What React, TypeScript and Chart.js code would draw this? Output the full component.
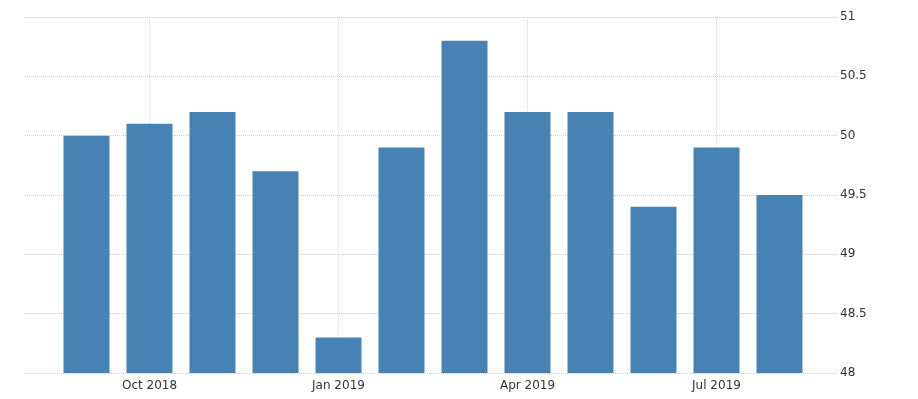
import React, { useEffect, useRef } from "react";
import { Chart, registerables } from "chart.js";

Chart.register(...registerables);

const months = ["Sep 2018", "Oct 2018", "Nov 2018", "Dec 2018", "Jan 2019", "Feb 2019", "Mar 2019", "Apr 2019", "May 2019", "Jun 2019", "Jul 2019", "Aug 2019"];
const values = [50.0, 50.1, 50.2, 49.7, 48.3, 49.9, 50.8, 50.2, 50.2, 49.4, 49.9, 49.5];
const tickIndices = [1, 4, 7, 10];
const yTicks = [48, 48.5, 49, 49.5, 50, 50.5, 51];

export default function App() {
  const ref = useRef<HTMLCanvasElement | null>(null);
  useEffect(() => {
    if (!ref.current) return;
    const chart = new Chart(ref.current, {
      type: "bar",
      data: {
        datasets: [
          {
            data: values.map((v, i) => ({ x: i, y: v })),
            backgroundColor: "#4682B4",
            borderWidth: 0,
            barPercentage: 0.73,
            categoryPercentage: 1,
          },
        ],
      },
      options: {
        animation: false,
        responsive: true,
        maintainAspectRatio: false,
        layout: { padding: { left: 25, top: 17, right: 0, bottom: 0 } },
        plugins: { legend: { display: false }, tooltip: { enabled: false } },
        scales: {
          x: {
            type: "linear",
            min: -0.976,
            max: 11.913,
            offset: false,
            afterBuildTicks: (scale: any) => {
              scale.ticks = tickIndices.map((v) => ({ value: v }));
            },
            afterFit: (scale: any) => {
              scale.height = 26;
            },
            ticks: {
              autoSkip: false,
              maxRotation: 0,
              padding: 6,
              color: "#333333",
              font: { family: "DejaVu Sans", size: 12 },
              callback: (v: any) => months[Math.round(Number(v))] ?? "",
            },
            grid: {
              offset: false,
              color: "#dcdcdc",
              drawTicks: false,
              lineWidth: 1,
            },
            border: { display: false, dash: [1, 1] },
          },
          y: {
            position: "right",
            min: 48,
            max: 51,
            afterBuildTicks: (scale: any) => {
              scale.ticks = yTicks.map((v) => ({ value: v }));
            },
            afterFit: (scale: any) => {
              scale.width = 81;
            },
            ticks: {
              padding: 3,
              color: "#333333",
              font: { family: "DejaVu Sans", size: 12 },
              callback: (v: any) => String(v),
            },
            grid: {
              color: "#d0d0d0",
              drawTicks: false,
              lineWidth: 1,
            },
            border: { display: false, dash: [1, 1] },
          },
        },
      },
    } as any);
    return () => chart.destroy();
  }, []);
  return (
    <div style={{ position: "fixed", left: 0, top: 0, width: 918, height: 399 }}>
      <canvas ref={ref} />
    </div>
  );
}
